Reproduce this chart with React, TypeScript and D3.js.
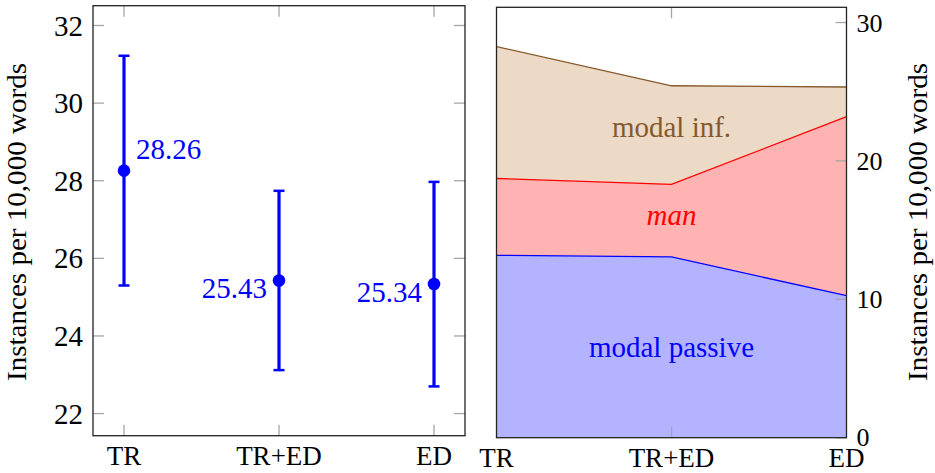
import React from "react";
import * as d3 from "d3";

const categories = ["TR", "TR+ED", "ED"];
const means = [28.26, 25.43, 25.34];
const errUpper = [31.22, 27.74, 27.97];
const errLower = [25.3, 23.12, 22.7];
const meanLabels = ["28.26", "25.43", "25.34"];
const leftTicks = [22, 24, 26, 28, 30, 32];

const seriesNames = ["modal passive", "man", "modal inf."];
const modalPassive = [13.18, 13.06, 10.26];
const manValues = [5.55, 5.24, 12.94];
const modalInf = [9.53, 7.13, 2.14];
const rightTicks = [0, 10, 20, 30];

const yLabel = "Instances per 10,000 words";

const W = 935;
const H = 473;
const FONT = "Liberation Serif, DejaVu Serif, Times New Roman, serif";

export default function App() {
  const L = { x0: 93, x1: 465, y0: 5.7, y1: 435.7 };
  const xL = d3.scalePoint<string>().domain(categories).range([124, 434]);
  const yL = d3.scaleLinear().domain([21.43, 32.51]).range([L.y1, L.y0]);

  const R = { x0: 496.5, x1: 846.5, y0: 7.3, y1: 437.7 };
  const xR = d3.scalePoint<string>().domain(categories).range([R.x0, R.x1]);
  const yR = d3.scaleLinear().domain([0, 31.1]).range([R.y1, R.y0]);

  const rows = categories.map((c, i) => ({
    cat: c,
    "modal passive": modalPassive[i],
    man: manValues[i],
    "modal inf.": modalInf[i],
  }));
  const stack = d3.stack<any>().keys(seriesNames)(rows);
  const area = d3
    .area<any>()
    .x((d) => xR(d.data.cat)!)
    .y0((d) => yR(d[0]))
    .y1((d) => yR(d[1]));
  const topLine = d3
    .line<any>()
    .x((d) => xR(d.data.cat)!)
    .y((d) => yR(d[1]));
  const fills = ["#b3b3ff", "#ffb3b3", "#ecd9c6"];
  const strokes = ["#0000ff", "#ff0000", "#86592d"];

  const tickColor = "#a6a6a6";
  const tickLen = 11;
  const labelOffsets = [
    { dx: 12, dy: -12, anchor: "start" },
    { dx: -12, dy: 18, anchor: "end" },
    { dx: -12, dy: 18, anchor: "end" },
  ];
  const txt = { fontFamily: FONT };

  return (
    <svg
      width={W}
      height={H}
      style={{ position: "absolute", left: 0, top: 0, background: "#fff", fontFamily: FONT }}
    >
      <g style={txt}>
        {leftTicks.map((t) => (
          <g key={"lt" + t}>
            <line x1={L.x0} x2={L.x0 + tickLen} y1={yL(t)} y2={yL(t)} stroke={tickColor} strokeWidth={1.3} />
            <line x1={L.x1} x2={L.x1 - tickLen} y1={yL(t)} y2={yL(t)} stroke={tickColor} strokeWidth={1.3} />
            <text style={txt} x={L.x0 - 10} y={yL(t)} dy="0.35em" textAnchor="end" fontSize={29} fill="#000">
              {t}
            </text>
          </g>
        ))}
        {categories.map((c) => (
          <g key={"lx" + c}>
            <line x1={xL(c)} x2={xL(c)} y1={L.y0} y2={L.y0 + tickLen} stroke={tickColor} strokeWidth={1.3} />
            <line x1={xL(c)} x2={xL(c)} y1={L.y1} y2={L.y1 - tickLen} stroke={tickColor} strokeWidth={1.3} />
            <text style={txt} x={xL(c)} y={465} textAnchor="middle" fontSize={27} fill="#000">
              {c}
            </text>
          </g>
        ))}
        <rect x={L.x0} y={L.y0} width={L.x1 - L.x0} height={L.y1 - L.y0} fill="none" stroke="#222" strokeWidth={1.3} />
        {categories.map((c, i) => (
          <g key={"eb" + c}>
            <line x1={xL(c)} x2={xL(c)} y1={yL(errLower[i])} y2={yL(errUpper[i])} stroke="#0000ff" strokeWidth={3.2} />
            <line x1={xL(c)! - 5.5} x2={xL(c)! + 5.5} y1={yL(errUpper[i])} y2={yL(errUpper[i])} stroke="#0000ff" strokeWidth={2.5} />
            <line x1={xL(c)! - 5.5} x2={xL(c)! + 5.5} y1={yL(errLower[i])} y2={yL(errLower[i])} stroke="#0000ff" strokeWidth={2.5} />
            <circle cx={xL(c)} cy={yL(means[i])} r={6.3} fill="#0000ff" />
            <text
              style={txt}
              x={xL(c)! + labelOffsets[i].dx}
              y={yL(means[i]) + labelOffsets[i].dy}
              textAnchor={labelOffsets[i].anchor as any}
              fontSize={29}
              fill="#0000ff"
            >
              {meanLabels[i]}
            </text>
          </g>
        ))}
        <text
          style={txt}
          transform={`translate(26, 222) rotate(-90)`}
          textAnchor="middle"
          fontSize={27}
          textLength={318}
          lengthAdjust="spacingAndGlyphs"
          fill="#000"
        >
          {yLabel}
        </text>
      </g>

      <g style={txt}>
        {stack.map((s, i) => (
          <path key={"a" + i} d={area(s)!} fill={fills[i]} stroke="none" />
        ))}
        {stack.map((s, i) => (
          <path key={"l" + i} d={topLine(s)!} fill="none" stroke={strokes[i]} strokeWidth={1.3} />
        ))}
        {rightTicks.map((t) => (
          <g key={"rt" + t}>
            <line x1={R.x1} x2={R.x1 - tickLen} y1={yR(t)} y2={yR(t)} stroke={tickColor} strokeWidth={1.3} />
            <text style={txt} x={R.x1 + 10} y={yR(t) + (t === 0 ? -1 : 0)} dy="0.35em" textAnchor="start" fontSize={26} fill="#000">
              {t}
            </text>
          </g>
        ))}
        {categories.map((c, i) => (
          <g key={"rx" + c}>
            {i === 1 && (
              <>
                <line x1={xR(c)} x2={xR(c)} y1={R.y0} y2={R.y0 + tickLen} stroke={tickColor} strokeWidth={1.3} />
                <line x1={xR(c)} x2={xR(c)} y1={R.y1} y2={R.y1 - tickLen} stroke={tickColor} strokeWidth={1.3} />
              </>
            )}
            <text style={txt} x={xR(c)} y={467} textAnchor="middle" fontSize={27} fill="#000">
              {c}
            </text>
          </g>
        ))}
        <rect x={R.x0} y={R.y0} width={R.x1 - R.x0} height={R.y1 - R.y0} fill="none" stroke="#222" strokeWidth={1.3} />
        <text style={txt} x={xR("TR+ED")} y={137} textAnchor="middle" fontSize={29} fill="#86592d">
          modal inf.
        </text>
        <text style={txt} x={xR("TR+ED")} y={225} textAnchor="middle" fontSize={29} fontStyle="italic" fill="#ff0000">
          man
        </text>
        <text style={txt} x={xR("TR+ED")} y={357} textAnchor="middle" fontSize={29} fill="#0000ff">
          modal passive
        </text>
        <text
          style={txt}
          transform={`translate(927, 222) rotate(-90)`}
          textAnchor="middle"
          fontSize={27}
          textLength={318}
          lengthAdjust="spacingAndGlyphs"
          fill="#000"
        >
          {yLabel}
        </text>
      </g>
    </svg>
  );
}
